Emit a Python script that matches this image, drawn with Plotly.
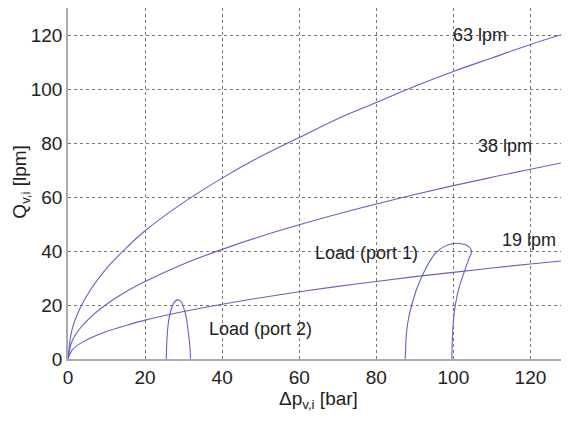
import plotly.graph_objects as go

# Flow curves
x_flow = [0, 1, 3, 6, 10, 15, 20, 30, 40, 50, 60, 70, 80, 90, 100, 110, 120, 130]
q_63 = [0, 10.6, 18.4, 26.0, 33.6, 41.0, 47.5, 58.0, 67.0, 75.0, 82.0, 89.0, 95.0, 101.0, 106.5, 111.5, 116.5, 121.0]
q_38 = [0, 6.4, 11.1, 15.7, 20.3, 24.9, 28.7, 35.2, 40.6, 45.4, 49.7, 53.7, 57.4, 60.9, 64.2, 67.3, 70.3, 73.2]
q_19 = [0, 3.2, 5.6, 7.9, 10.2, 12.4, 14.4, 17.6, 20.3, 22.7, 24.9, 26.9, 28.7, 30.5, 32.1, 33.7, 35.2, 36.6]

# Load trajectories
load2_x = [25.5, 25.6, 25.8, 26.1, 26.6, 27.2, 27.8, 28.5, 29.3, 29.9, 30.6, 31.2, 31.6, 31.8]
load2_y = [0, 5, 10, 14, 17.5, 20.0, 21.4, 21.9, 21.3, 19.5, 16.0, 10.0, 5.0, 0]
load1_x = [87.5, 87.9, 88.5, 89.2, 90.5, 92.2, 93.8, 95.3, 97.9, 100.0, 101.5, 103.0, 104.3, 104.7, 104.0, 103.0, 101.8, 100.9, 100.3, 99.9, 99.7, 99.6]
load1_y = [0, 10.7, 16.0, 20.0, 26.0, 31.7, 36.0, 39.1, 41.9, 42.8, 42.8, 42.4, 41.2, 39.7, 37.0, 33.0, 28.0, 23.0, 18.0, 12.0, 6.0, 0]

labels = ["63 lpm", "38 lpm", "19 lpm", "Load (port 1)", "Load (port 2)"]
label_x = [107, 113.5, 119.5, 77.5, 50]
label_y = [120, 79, 44, 39.3, 11]

FONT = "Liberation Sans, Arial"
line_color = "#6262cc"
fig = go.Figure()
for yy in (q_63, q_38, q_19):
    fig.add_trace(go.Scatter(x=x_flow, y=yy, mode="lines", line=dict(color=line_color, width=1.1, shape="spline"), hoverinfo="skip"))
fig.add_trace(go.Scatter(x=load2_x, y=load2_y, mode="lines", line=dict(color=line_color, width=1.1, shape="spline"), hoverinfo="skip"))
fig.add_trace(go.Scatter(x=load1_x, y=load1_y, mode="lines", line=dict(color=line_color, width=1.1, shape="spline"), hoverinfo="skip"))

for t, lx, ly in zip(labels, label_x, label_y):
    fig.add_annotation(x=lx, y=ly, text=t, showarrow=False, xref="x", yref="y",
                       font=dict(family=FONT, size=18, color="#222"))

fig.add_annotation(x=0.5, y=-0.118, xref="paper", yref="paper", text="Δp<sub>v,i</sub> [bar]",
                   showarrow=False, yanchor="middle", font=dict(family=FONT, size=19, color="#222"))
fig.add_annotation(x=-0.094, y=0.505, xref="paper", yref="paper", text="Q<sub>v,i</sub> [lpm]", textangle=-90,
                   showarrow=False, xanchor="center", yanchor="middle", font=dict(family=FONT, size=19, color="#222"))

axis_common = dict(showgrid=True, gridcolor="#777", griddash="dot", gridwidth=1,
                   showline=True, linecolor="#aaa", linewidth=1.5, mirror=True, automargin=False,
                   zeroline=False, ticks="", tickfont=dict(family=FONT, size=19, color="#222"))
fig.update_xaxes(range=[0, 130], tickvals=[0, 20, 40, 60, 80, 100, 120], **axis_common)
fig.update_yaxes(range=[0, 130], tickvals=[0, 20, 40, 60, 80, 100, 120], **axis_common)

# page body has an 8px margin, so the figure is sized/offset to compensate
fig.update_layout(width=561, height=413, margin=dict(l=60, r=0, t=0, b=62, autoexpand=False),
                  plot_bgcolor="white", paper_bgcolor="white", showlegend=False)
fig.write_html("out.html")
